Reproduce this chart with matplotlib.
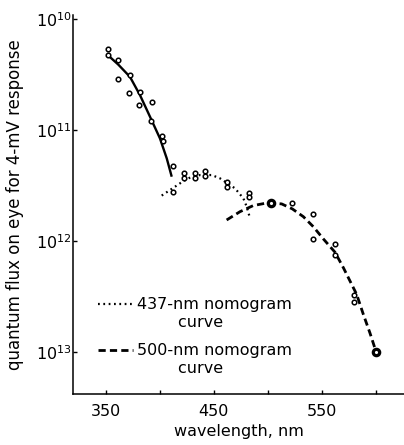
import numpy as np
import matplotlib
matplotlib.use('Agg')
import matplotlib.pyplot as plt
from matplotlib.lines import Line2D
from matplotlib.ticker import NullLocator

plt.rcParams['font.family'] = ['DejaVu Sans']

# measured points (log10 of quantum flux)
uv_wl = [351.6, 351.6, 361.1, 361.4, 372.2, 371.6, 381.5, 380.9, 392.4, 391.4, 401.6, 402.5, 412.4]
uv_log = [10.27, 10.32, 10.37, 10.54, 10.50, 10.67, 10.66, 10.77, 10.75, 10.92, 11.05, 11.10, 11.32]

blue_wl = [412.4, 422.6, 422.6, 432.5, 432.5, 441.8, 441.8, 461.8, 461.8, 482.8, 482.8]
blue_log = [11.555, 11.39, 11.435, 11.39, 11.435, 11.365, 11.415, 11.465, 11.51, 11.565, 11.605]

green_wl = [522.7, 542.1, 541.6, 561.8, 561.8, 580.3, 580.3]
green_log = [11.66, 11.76, 11.985, 12.03, 12.125, 12.49, 12.545]

big_wl = [502.5, 600.4]
big_log = [11.655, 13.0]

# fitted curves
uv_curve_wl = [351.2, 361.4, 372.2, 381.5, 390.8, 400.0, 406.3, 410.9]
uv_curve_log = [10.32, 10.41, 10.52, 10.685, 10.88, 11.075, 11.255, 11.42]

nomo437_wl = [401.6, 412.4, 421.6, 429.4, 437.1, 448.0, 455.7, 469.6, 477.3, 480.4, 483.5]
nomo437_log = [11.59, 11.52, 11.46, 11.42, 11.405, 11.405, 11.435, 11.525, 11.615, 11.69, 11.795]

nomo500_wl = [461.8, 474.2, 486.5, 500.0, 512.8, 522.7, 532.9, 542.1, 551.4, 562.2,
              570.0, 577.7, 582.3, 588.5, 594.7, 600.4]
nomo500_log = [11.81, 11.735, 11.68, 11.655, 11.665, 11.71, 11.78, 11.87, 11.98, 12.10,
               12.24, 12.39, 12.48, 12.66, 12.83, 13.0]

x_ticks = [350, 400, 450, 500, 550, 600]
x_labels = ['350', '', '450', '', '550', '']
y_ticks = [1e10, 1e11, 1e12, 1e13]
y_labels = ['$10^{10}$', '$10^{11}$', '$10^{12}$', '$10^{13}$']

fig = plt.figure(figsize=(4.04, 4.45), dpi=100)
ax = fig.add_axes([0.1807, 0.1146, 0.8193, 0.8514])

def q(v):
    return 10 ** np.asarray(v)

ax.plot(uv_curve_wl, q(uv_curve_log), color='black', lw=1.7, solid_capstyle='butt')
l437, = ax.plot(nomo437_wl, q(nomo437_log), color='black', lw=1.6, dashes=(0.8, 1.6))
l500, = ax.plot(nomo500_wl, q(nomo500_log), color='black', lw=2.0, dashes=(2.6, 1.5))

pt = dict(marker='o', ls='none', ms=3.3, mew=1.1, mfc='white', mec='black', zorder=3)
ax.plot(uv_wl, q(uv_log), **pt)
ax.plot(blue_wl, q(blue_log), **pt)
ax.plot(green_wl, q(green_log), **pt)
ax.plot(big_wl, q(big_log), marker='o', ls='none', ms=4.6, mew=2.3, mfc='white',
        mec='black', zorder=4)

ax.set_yscale('log')
ax.set_ylim(10 ** 13.378, 10 ** 9.964)
ax.set_xlim(319.4, 626.2)
ax.set_xticks(x_ticks)
ax.set_xticklabels(x_labels)
ax.set_yticks(y_ticks)
ax.set_yticklabels(y_labels)
ax.yaxis.set_minor_locator(NullLocator())

for s in ['top', 'right']:
    ax.spines[s].set_visible(False)
for s in ['left', 'bottom']:
    ax.spines[s].set_linewidth(1.1)

ax.tick_params(axis='x', direction='in', length=3, width=1, pad=7, labelsize=11.5)
ax.tick_params(axis='y', direction='in', length=3, width=1, pad=1, labelsize=11.5)

ax.set_xlabel('wavelength, nm', fontsize=11.5, labelpad=4)
ax.set_ylabel('quantum flux on eye for 4-mV response', fontsize=12)
ax.yaxis.set_label_coords(-0.148, 0.5)

blank = Line2D([], [], ls='none')
leg_kw = dict(loc='center left', frameon=False, fontsize=11.5, handlelength=2.2,
              handletextpad=0.25, labelspacing=0.15, borderpad=0, borderaxespad=0)
leg1 = ax.legend([l437, blank], ['437-nm nomogram', '        curve'],
                 bbox_to_anchor=(0.0755, 0.2127), **leg_kw)
ax.add_artist(leg1)
ax.legend([l500, blank], ['500-nm nomogram', '        curve'],
          bbox_to_anchor=(0.0755, 0.091), **leg_kw)

fig.savefig('out.png', dpi=100)
